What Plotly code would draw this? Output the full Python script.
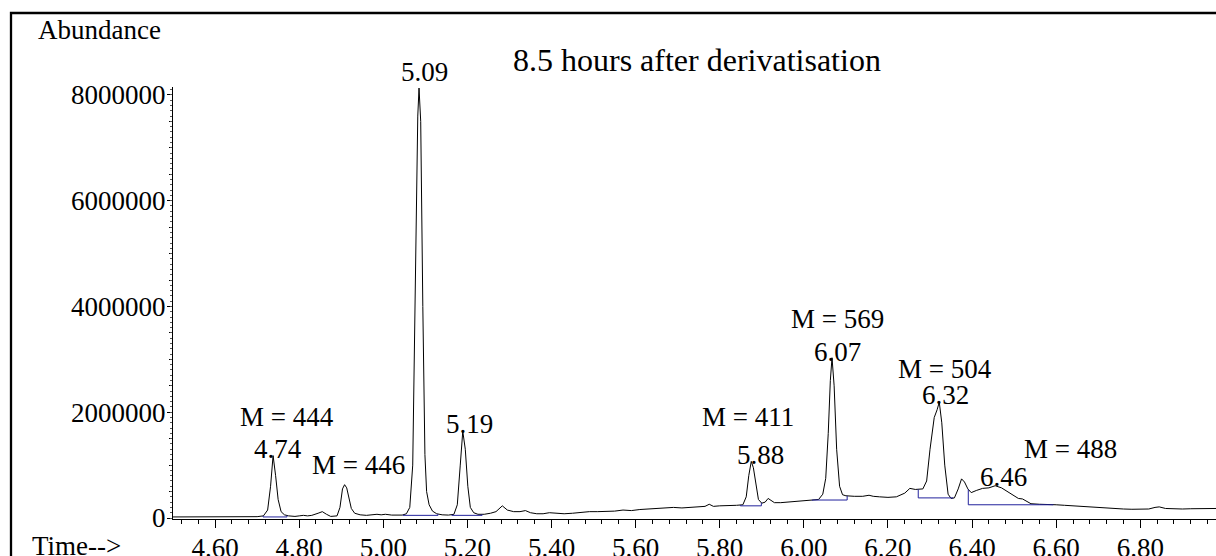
import numpy as np
import plotly.graph_objects as go

# ---------------- data ----------------
time_min = [4.50, 4.55, 4.60, 4.65, 4.70, 4.715, 4.725, 4.732, 4.738, 4.744, 4.75, 4.757, 4.765, 4.775,
            4.79, 4.80, 4.81, 4.82, 4.83, 4.845, 4.855, 4.865, 4.875, 4.89, 4.897, 4.903, 4.908, 4.913,
            4.918, 4.924, 4.932, 4.945, 4.96, 4.97, 4.985, 4.995, 5.005, 5.02, 5.035, 5.045, 5.055,
            5.063, 5.07, 5.076, 5.082, 5.085, 5.089, 5.094, 5.099, 5.103, 5.109, 5.117, 5.127, 5.14,
            5.155, 5.168, 5.176, 5.183, 5.189, 5.195, 5.201, 5.207, 5.215, 5.225, 5.24, 5.255, 5.268,
            5.283, 5.295, 5.31, 5.325, 5.338, 5.35, 5.365, 5.38, 5.395, 5.41, 5.43, 5.45, 5.47, 5.49,
            5.51, 5.53, 5.55, 5.57, 5.59, 5.61, 5.63, 5.65, 5.67, 5.69, 5.71, 5.73, 5.75, 5.765, 5.775,
            5.785, 5.80, 5.82, 5.84, 5.855, 5.863, 5.869, 5.875, 5.88, 5.886, 5.892, 5.90, 5.908, 5.915,
            5.922, 5.93, 5.945, 5.96, 5.98, 6.00, 6.02, 6.035, 6.045, 6.052, 6.058, 6.063, 6.067, 6.072,
            6.078, 6.085, 6.092, 6.10, 6.12, 6.14, 6.155, 6.165, 6.18, 6.20, 6.22, 6.24, 6.252, 6.265,
            6.283, 6.292, 6.30, 6.31, 6.317, 6.322, 6.328, 6.335, 6.343, 6.35, 6.358, 6.367, 6.375,
            6.382, 6.39, 6.398, 6.41, 6.425, 6.44, 6.455, 6.47, 6.485, 6.50, 6.51, 6.52, 6.53, 6.54,
            6.56, 6.58, 6.60, 6.62, 6.64, 6.66, 6.68, 6.70, 6.72, 6.74, 6.76, 6.78, 6.80, 6.82, 6.835,
            6.845, 6.86, 6.88, 6.90, 6.92, 6.94, 6.96, 6.98]
abundance = [20000, 20000, 20000, 20000, 25000, 40000, 150000, 600000, 1180000, 800000, 350000, 120000,
             60000, 40000, 30000, 40000, 50000, 40000, 50000, 90000, 120000, 70000, 30000, 40000, 200000,
             550000, 630000, 570000, 400000, 180000, 90000, 60000, 50000, 55000, 70000, 60000, 70000,
             55000, 60000, 55000, 80000, 200000, 1000000, 4000000, 7600000, 8130000, 7500000, 4000000,
             1200000, 500000, 250000, 130000, 80000, 60000, 55000, 70000, 250000, 1000000, 1640000,
             1300000, 600000, 200000, 100000, 70000, 70000, 90000, 120000, 230000, 150000, 120000,
             120000, 140000, 100000, 80000, 80000, 100000, 90000, 80000, 90000, 110000, 120000, 120000,
             120000, 130000, 150000, 140000, 160000, 170000, 170000, 180000, 200000, 190000, 200000,
             200000, 220000, 260000, 220000, 230000, 230000, 240000, 250000, 400000, 800000, 1070000,
             950000, 600000, 350000, 280000, 300000, 370000, 330000, 290000, 290000, 300000, 310000,
             320000, 330000, 350000, 450000, 750000, 1600000, 2600000, 3030000, 2500000, 1300000,
             600000, 440000, 420000, 410000, 410000, 430000, 410000, 400000, 390000, 400000, 470000,
             560000, 540000, 550000, 700000, 1300000, 1900000, 2050000, 2190000, 1800000, 1000000,
             450000, 370000, 380000, 550000, 740000, 680000, 550000, 480000, 520000, 560000, 570000,
             610000, 570000, 500000, 420000, 370000, 360000, 320000, 270000, 260000, 260000, 250000,
             240000, 230000, 210000, 200000, 190000, 180000, 170000, 170000, 165000, 165000, 170000,
             200000, 210000, 180000, 170000, 170000, 175000, 180000, 180000, 180000]

# integration baselines (start time, end time, level)
base_start = [4.714, 5.047, 5.163, 5.849, 6.020, 6.272, 6.391]
base_end = [4.771, 5.130, 5.235, 5.899, 6.103, 6.355, 6.593]
base_level = [20000, 50000, 50000, 230000, 340000, 380000, 250000]

# peak labels
peak_labels = ["5.09", "4.74", "5.19", "5.88", "6.07", "6.32", "6.46"]
peak_label_x = [5.099, 4.750, 5.204, 5.896, 6.081, 6.336, 6.474]
peak_label_y = [8430000, 1300000, 1780000, 1190000, 3140000, 2330000, 780000]

mass_labels = ["M = 444", "M = 446", "M = 411", "M = 569", "M = 504", "M = 488"]
mass_label_x = [4.771, 4.940, 5.867, 6.081, 6.336, 6.633]
mass_label_y = [1910000, 1000000, 1910000, 3760000, 2820000, 1300000]

x_ticks = [4.60, 4.80, 5.00, 5.20, 5.40, 5.60, 5.80, 6.00, 6.20, 6.40, 6.60, 6.80]
y_ticks = [0, 2000000, 4000000, 6000000, 8000000]

title_text = "8.5 hours after derivatisation"

# ---------------- figure ----------------
FONT = "Liberation Serif, Times New Roman, serif"
BLUE = "#22229c"
W, H = 1216, 556
ML, MR, MT, MB = 173, 0, 87, 37
PW, PH = W - ML - MR, H - MT - MB
yr = [-19000, 8150000]


def to_paper_y(v):
    return (v - yr[0]) / (yr[1] - yr[0])


fig = go.Figure()

fig.add_trace(go.Scatter(x=time_min, y=abundance, mode="lines",
                         line=dict(color="black", width=1), hoverinfo="skip"))

bx, by = [], []
for s, e, lv in zip(base_start, base_end, base_level):
    cs = float(np.interp(s, time_min, abundance))
    ce = float(np.interp(e, time_min, abundance))
    bx += [s, s, e, e, None]
    by += [cs, lv, lv, ce, None]
fig.add_trace(go.Scatter(x=bx, y=by, mode="lines", line=dict(color=BLUE, width=1),
                         hoverinfo="skip"))

# invisible trace on overlay axis for fine ticks
fig.add_trace(go.Scatter(x=[time_min[0]], y=[0], yaxis="y2", mode="markers",
                         marker=dict(opacity=0), hoverinfo="skip"))

TXT = dict(showarrow=False, xanchor="center", yanchor="middle")
annotations = []
for t, x, y in list(zip(peak_labels, peak_label_x, peak_label_y)) + \
        list(zip(mass_labels, mass_label_x, mass_label_y)):
    annotations.append(dict(x=x, y=to_paper_y(y), xref="x", yref="paper", text=t,
                            font=dict(size=27, family=FONT, color="black"), **TXT))
annotations.append(dict(x=(697 - ML) / PW, y=(H - MB - 60) / PH, xref="paper", yref="paper",
                        text=title_text,
                        font=dict(size=32, family=FONT, color="black"), **TXT))
annotations.append(dict(x=(99 - ML) / PW, y=(H - MB - 30) / PH, xref="paper", yref="paper",
                        text="Abundance",
                        font=dict(size=27, family=FONT, color="black"), **TXT))
annotations.append(dict(x=(76 - ML) / PW, y=(H - MB - 546) / PH, xref="paper", yref="paper",
                        text="Time-->",
                        font=dict(size=27, family=FONT, color="black"), **TXT))

fig.update_layout(
    width=W, height=H,
    margin=dict(l=ML, r=MR, t=MT, b=MB, pad=0),
    plot_bgcolor="white", paper_bgcolor="white",
    showlegend=False,
    font=dict(family=FONT, size=27, color="black"),
    xaxis=dict(range=[4.50, 6.98], showline=True, linecolor="black", linewidth=1,
               automargin=False, ticklabelstandoff=-3,
               ticks="outside", ticklen=8, tickcolor="black", tickwidth=1,
               tickvals=x_ticks, ticktext=[f"{v:.2f}" for v in x_ticks],
               showgrid=False, zeroline=False,
               minor=dict(ticks="outside", ticklen=4, tickcolor="black", dtick=0.04,
                          tick0=4.60, showgrid=False)),
    yaxis=dict(range=yr, showline=True, linecolor="black", linewidth=1,
               automargin=False, ticklabelstandoff=-4,
               ticks="outside", ticklen=5, tickcolor="black", tickwidth=1,
               tickvals=y_ticks, ticktext=[str(v) for v in y_ticks],
               showgrid=False, zeroline=False,
               minor=dict(ticks="outside", ticklen=3, tickcolor="black", dtick=500000,
                          tick0=0, showgrid=False)),
    yaxis2=dict(range=yr, overlaying="y", side="left", showline=False, showgrid=False,
                automargin=False,
                zeroline=False, ticks="outside", ticklen=2, tickcolor="#555555",
                dtick=100000, tick0=0, showticklabels=False),
    annotations=annotations,
    shapes=[dict(type="rect", xref="paper", yref="paper",
                 x0=(11 - ML) / PW, x1=1.01, y0=-0.12, y1=(H - MB - 13) / PH,
                 line=dict(color="black", width=2.3), fillcolor="rgba(0,0,0,0)",
                 layer="above")],
)

fig.write_html("out.html")
